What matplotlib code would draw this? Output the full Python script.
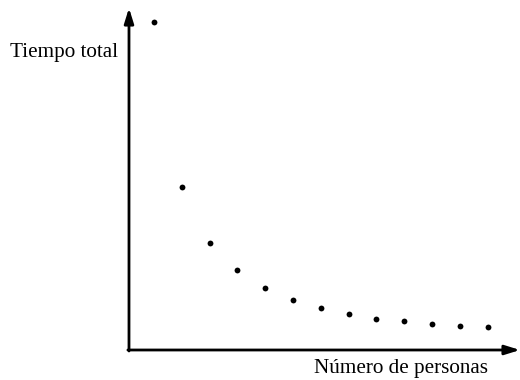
import matplotlib
matplotlib.use("Agg")
import matplotlib.pyplot as plt

INK = "#000000"

# number of people (1..13) and total time (arbitrary units)
personas = [1, 2, 3, 4, 5, 6, 7, 8, 9, 10, 11, 12, 13]
tiempo = [32.8, 16.3, 10.7, 8.0, 6.2, 5.0, 4.2, 3.6, 3.1, 2.9, 2.6, 2.4, 2.3]

plt.rcParams["font.family"] = ["Liberation Serif", "DejaVu Serif"]

fig = plt.figure(figsize=(5.2, 3.8), dpi=100)
ax = fig.add_axes([0, 0, 1, 1])
ax.set_xlim(-4.54, 14.165)
ax.set_ylim(-3.0, 35.0)
ax.axis("off")

x0, y0 = 0.1, 0.0
# axes with arrowheads
ax.annotate("", xy=(x0, 34.2), xytext=(x0, y0 - 0.1),
            arrowprops=dict(arrowstyle="-|>,head_length=0.9,head_width=0.28",
                            color=INK, lw=2, shrinkA=0, shrinkB=0))
ax.annotate("", xy=(14.165, y0), xytext=(x0 - 0.04, y0),
            arrowprops=dict(arrowstyle="-|>,head_length=0.9,head_width=0.28",
                            color=INK, lw=2, shrinkA=0, shrinkB=0))

ax.plot(personas, tiempo, "o", color=INK, markersize=4.2, markeredgewidth=0)

ax.text(x0 - 0.4, 29.8, "Tiempo total", ha="right", va="center",
        fontsize=15.2, color=INK)
ax.text(13.0, -1.9, "Número de personas", ha="right", va="center",
        fontsize=15.2, color=INK)

fig.savefig("out.png", dpi=100, facecolor="white")
